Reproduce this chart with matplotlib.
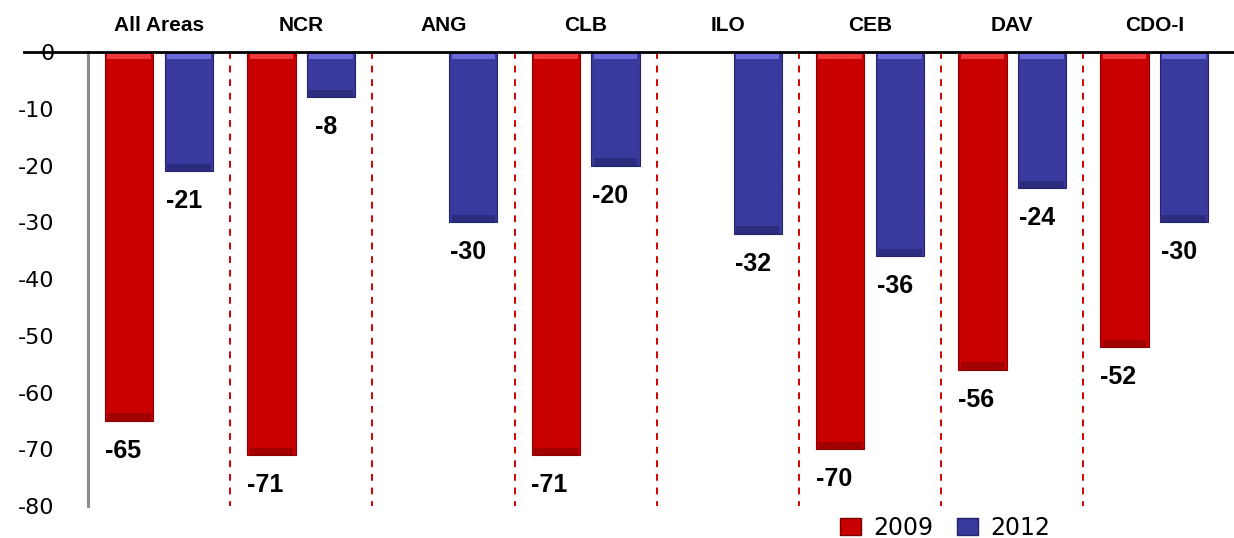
import numpy as np
import matplotlib
matplotlib.use("Agg")
import matplotlib.pyplot as plt
from matplotlib.patches import Patch

# data
areas = ['All Areas', 'NCR', 'ANG', 'CLB', 'ILO', 'CEB', 'DAV', 'CDO-I']
v2009 = [-65, -71, None, -71, None, -70, -56, -52]
v2012 = [-21, -8, -30, -20, -32, -36, -24, -30]
yticks = [0, -10, -20, -30, -40, -50, -60, -70, -80]

red = '#c80000'
blue = '#3a3a9e'

fig = plt.figure(figsize=(12.34, 5.38), dpi=100)
ax = fig.add_axes([88/1234, 32/538, 1146/1234, 454/538])

x = np.arange(len(areas))
w = 0.34
off = 0.21

def bevel_bar(xc, val, col, light, dark):
    ax.bar(xc, val, w, color=col, edgecolor=dark, linewidth=0.8, zorder=3)
    # light top cap and darker bottom rim, like the original's 3d bars
    ax.bar(xc, -1.3, w * 0.9, color=light, linewidth=0, zorder=4)
    ax.bar(xc, 1.3, w * 0.9, bottom=val, color=dark, alpha=0.6, linewidth=0, zorder=4)

for i in range(len(areas)):
    if v2009[i] is not None:
        bevel_bar(x[i] - off, v2009[i], red, '#ee3a3a', '#8a0000')
        ax.text(x[i] - off - 0.045, v2009[i] - 5.3, str(v2009[i]), ha='center', va='center',
                fontsize=18, fontweight='bold', family='Liberation Sans')
    bevel_bar(x[i] + off, v2012[i], blue, '#6a6ad8', '#24246a')
    ax.text(x[i] + off - 0.035, v2012[i] - 5.3, str(v2012[i]), ha='center', va='center',
            fontsize=18, fontweight='bold', family='Liberation Sans')
    ax.text(x[i], 4.7, areas[i], ha='center', va='center', fontsize=15,
            fontweight='bold', family='Liberation Sans', clip_on=False)

# red dashed separators between groups
for b in x[:-1] + 0.5:
    ax.plot([b, b], [0, -80], color='#d40000', linestyle=(0, (3.5, 3.5)), linewidth=1.4, zorder=2)

ax.set_xlim(-0.5, 7.56)
ax.set_ylim(-80, 0)

# black zero line running across the tick label
ax.plot([-0.95, 7.56], [0, 0], color='black', linewidth=2, clip_on=False, zorder=5)

for s in ['top', 'right', 'bottom']:
    ax.spines[s].set_visible(False)
ax.spines['left'].set_color('#8c8c8c')
ax.spines['left'].set_linewidth(2.2)

ax.set_xticks([])
ax.set_yticks(yticks)
ax.set_yticklabels([str(t) for t in yticks], fontsize=16, family='DejaVu Sans')
ax.tick_params(axis='y', length=0, pad=24)

handles = [Patch(facecolor=red, edgecolor='#7a0000'), Patch(facecolor=blue, edgecolor='#24246a')]
fig.legend(handles, ['2009', '2012'], loc='center', bbox_to_anchor=(945/1234, 1 - 528/538),
           ncol=2, frameon=False, prop={'family': 'DejaVu Sans', 'size': 17},
           handlelength=0.9, handleheight=0.7, handletextpad=0.5, columnspacing=1.0)

fig.savefig('out.png', dpi=100)
